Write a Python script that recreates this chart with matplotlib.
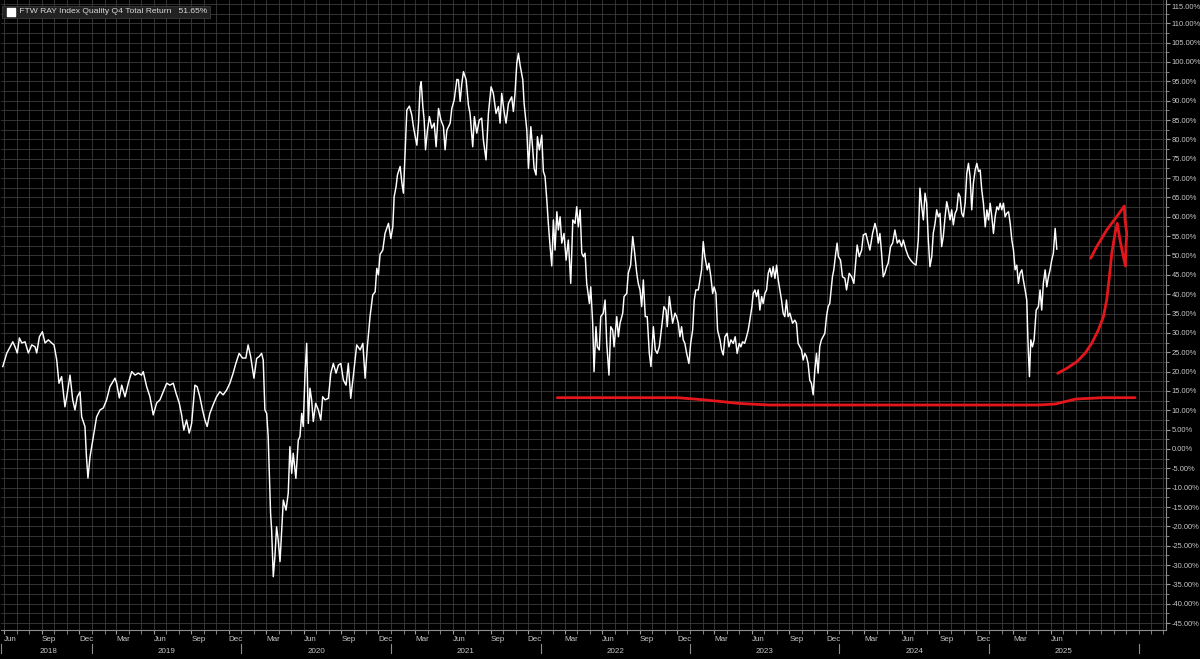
import matplotlib
matplotlib.use('Agg')
import matplotlib.pyplot as plt
import matplotlib.dates as mdates
import matplotlib.transforms as mtrans
from datetime import datetime

plt.rcParams['font.family'] = ['Liberation Sans', 'DejaVu Sans']

# series: time as decimal year, total return in %
t_years = [
    2018.403, 2018.429, 2018.470, 2018.485, 2018.500, 2018.514, 2018.530, 2018.552, 2018.574, 2018.597,
    2018.619, 2018.630, 2018.648, 2018.668, 2018.686, 2018.708, 2018.730, 2018.746, 2018.764, 2018.779,
    2018.797, 2018.819, 2018.831, 2018.853, 2018.871, 2018.886, 2018.902, 2018.920, 2018.931, 2018.953,
    2018.963, 2018.973, 2018.987, 2019.009, 2019.031, 2019.054, 2019.076, 2019.098, 2019.120, 2019.154,
    2019.165, 2019.183, 2019.199, 2019.221, 2019.243, 2019.266, 2019.288, 2019.310, 2019.332, 2019.343,
    2019.366, 2019.388, 2019.410, 2019.433, 2019.455, 2019.477, 2019.500, 2019.522, 2019.544, 2019.562,
    2019.584, 2019.600, 2019.615, 2019.633, 2019.651, 2019.667, 2019.689, 2019.704, 2019.722, 2019.740,
    2019.756, 2019.771, 2019.789, 2019.811, 2019.834, 2019.856, 2019.878, 2019.901, 2019.923, 2019.945,
    2019.963, 2019.985, 2020.008, 2020.030, 2020.045, 2020.062, 2020.084, 2020.102, 2020.119, 2020.135,
    2020.146, 2020.157, 2020.169, 2020.179, 2020.195, 2020.202, 2020.213, 2020.224, 2020.235, 2020.246,
    2020.258, 2020.269, 2020.280, 2020.298, 2020.313, 2020.324, 2020.336, 2020.346, 2020.364, 2020.380,
    2020.391, 2020.403, 2020.413, 2020.425, 2020.436, 2020.447, 2020.458, 2020.469, 2020.480, 2020.496,
    2020.514, 2020.530, 2020.543, 2020.559, 2020.581, 2020.597, 2020.614, 2020.632, 2020.648, 2020.664,
    2020.681, 2020.699, 2020.714, 2020.730, 2020.748, 2020.770, 2020.793, 2020.811, 2020.826, 2020.841,
    2020.859, 2020.877, 2020.893, 2020.904, 2020.915, 2020.926, 2020.944, 2020.959, 2020.982, 2020.998,
    2021.011, 2021.020, 2021.033, 2021.042, 2021.060, 2021.072, 2021.082, 2021.094, 2021.105, 2021.122,
    2021.138, 2021.149, 2021.161, 2021.172, 2021.183, 2021.194, 2021.201, 2021.212, 2021.221, 2021.230,
    2021.243, 2021.256, 2021.272, 2021.288, 2021.301, 2021.317, 2021.333, 2021.350, 2021.361, 2021.373,
    2021.395, 2021.406, 2021.422, 2021.440, 2021.450, 2021.462, 2021.473, 2021.484, 2021.502, 2021.517,
    2021.528, 2021.546, 2021.557, 2021.573, 2021.590, 2021.606, 2021.617, 2021.635, 2021.651, 2021.669,
    2021.684, 2021.702, 2021.718, 2021.729, 2021.740, 2021.756, 2021.769, 2021.785, 2021.807, 2021.818,
    2021.829, 2021.841, 2021.852, 2021.863, 2021.881, 2021.890, 2021.908, 2021.919, 2021.935, 2021.948,
    2021.957, 2021.970, 2021.979, 2021.992, 2022.008, 2022.019, 2022.030, 2022.042, 2022.052, 2022.064,
    2022.075, 2022.086, 2022.097, 2022.109, 2022.119, 2022.131, 2022.142, 2022.157, 2022.171, 2022.186,
    2022.202, 2022.216, 2022.231, 2022.242, 2022.253, 2022.265, 2022.276, 2022.287, 2022.298, 2022.309,
    2022.327, 2022.336, 2022.349, 2022.358, 2022.371, 2022.380, 2022.393, 2022.403, 2022.420, 2022.432,
    2022.443, 2022.458, 2022.470, 2022.483, 2022.492, 2022.510, 2022.521, 2022.532, 2022.550, 2022.559,
    2022.577, 2022.587, 2022.603, 2022.617, 2022.628, 2022.644, 2022.654, 2022.666, 2022.677, 2022.688,
    2022.701, 2022.714, 2022.728, 2022.739, 2022.755, 2022.768, 2022.781, 2022.795, 2022.811, 2022.826,
    2022.840, 2022.848, 2022.862, 2022.873, 2022.884, 2022.900, 2022.911, 2022.922, 2022.933, 2022.944,
    2022.955, 2022.966, 2022.978, 2022.993, 2023.005, 2023.018, 2023.029, 2023.040, 2023.056, 2023.067,
    2023.078, 2023.089, 2023.100, 2023.116, 2023.127, 2023.140, 2023.152, 2023.162, 2023.174, 2023.185,
    2023.201, 2023.212, 2023.223, 2023.234, 2023.249, 2023.261, 2023.274, 2023.290, 2023.303, 2023.316,
    2023.330, 2023.341, 2023.352, 2023.366, 2023.379, 2023.390, 2023.401, 2023.415, 2023.423, 2023.435,
    2023.446, 2023.457, 2023.468, 2023.480, 2023.490, 2023.502, 2023.513, 2023.524, 2023.535, 2023.546,
    2023.557, 2023.569, 2023.580, 2023.591, 2023.602, 2023.613, 2023.624, 2023.635, 2023.646, 2023.657,
    2023.669, 2023.687, 2023.702, 2023.713, 2023.724, 2023.736, 2023.747, 2023.758, 2023.769, 2023.780,
    2023.791, 2023.802, 2023.813, 2023.825, 2023.836, 2023.847, 2023.858, 2023.869, 2023.880, 2023.891,
    2023.903, 2023.914, 2023.925, 2023.936, 2023.954, 2023.963, 2023.976, 2023.985, 2023.994, 2024.008,
    2024.021, 2024.037, 2024.048, 2024.066, 2024.082, 2024.097, 2024.110, 2024.119, 2024.133, 2024.149,
    2024.160, 2024.177, 2024.193, 2024.204, 2024.222, 2024.238, 2024.249, 2024.260, 2024.271, 2024.282,
    2024.293, 2024.304, 2024.316, 2024.326, 2024.342, 2024.356, 2024.371, 2024.387, 2024.400, 2024.416,
    2024.427, 2024.445, 2024.461, 2024.476, 2024.494, 2024.512, 2024.527, 2024.538, 2024.550, 2024.561,
    2024.572, 2024.583, 2024.594, 2024.605, 2024.617, 2024.627, 2024.639, 2024.650, 2024.661, 2024.672,
    2024.683, 2024.694, 2024.706, 2024.717, 2024.728, 2024.739, 2024.750, 2024.761, 2024.773, 2024.784,
    2024.795, 2024.806, 2024.817, 2024.828, 2024.840, 2024.851, 2024.862, 2024.873, 2024.884, 2024.895,
    2024.907, 2024.918, 2024.929, 2024.940, 2024.951, 2024.962, 2024.974, 2024.985, 2024.996, 2025.007,
    2025.018, 2025.029, 2025.040, 2025.052, 2025.063, 2025.074, 2025.085, 2025.096, 2025.107, 2025.118,
    2025.130, 2025.141, 2025.152, 2025.163, 2025.174, 2025.185, 2025.196, 2025.207, 2025.219, 2025.229,
    2025.241, 2025.252, 2025.259, 2025.263, 2025.270, 2025.279, 2025.290, 2025.301, 2025.315, 2025.330,
    2025.341, 2025.352, 2025.363, 2025.375, 2025.386, 2025.397, 2025.408, 2025.419, 2025.430, 2025.442,
    2025.453,
]
returns = [
    21.3, 24.7, 27.7, 26.4, 24.8, 28.7, 27.4, 27.7, 24.8, 26.9,
    26.4, 24.8, 29.0, 30.3, 27.4, 28.2, 27.4, 26.9, 23.0, 17.0,
    18.7, 10.9, 13.5, 19.1, 12.7, 10.1, 13.5, 14.8, 8.3, 5.8,
    -2.0, -7.5, -2.0, 3.2, 8.3, 10.1, 10.6, 12.7, 16.1, 18.3,
    17.0, 13.2, 16.5, 13.5, 17.0, 20.0, 19.1, 19.6, 19.1, 20.0,
    16.1, 13.5, 8.8, 11.9, 12.7, 14.8, 17.0, 16.5, 17.0, 14.5,
    11.9, 8.8, 4.9, 7.5, 4.1, 6.6, 16.5, 16.1, 13.5, 10.1,
    7.5, 5.8, 9.2, 11.4, 13.5, 14.8, 14.0, 15.2, 17.0, 19.6,
    22.1, 24.7, 23.5, 23.5, 26.9, 23.9, 18.3, 23.4, 23.9, 24.7,
    23.0, 10.1, 9.2, 3.2, -16.6, -20.9, -33.0, -27.8, -20.1, -23.5,
    -29.1, -20.9, -13.2, -15.8, -11.4, 0.6, -6.3, -1.1, -7.6, 2.3,
    3.2, 9.2, 5.8, 19.6, 27.3, 6.6, 15.7, 12.7, 7.1, 11.8,
    10.1, 7.5, 13.5, 12.7, 13.1, 19.6, 22.1, 19.6, 21.7, 22.1,
    17.8, 16.5, 22.1, 13.1, 19.1, 26.9, 25.6, 27.3, 18.3, 26.4,
    34.2, 39.8, 40.6, 46.7, 45.0, 50.3, 51.4, 55.7, 58.3, 54.4,
    57.4, 65.2, 67.8, 70.8, 73.0, 68.7, 66.1, 77.3, 87.6, 88.6,
    86.3, 83.3, 80.7, 78.5, 84.2, 93.6, 94.9, 88.5, 85.0, 77.3,
    82.4, 85.9, 82.9, 84.2, 78.1, 88.0, 85.0, 83.3, 77.3, 82.4,
    84.2, 88.0, 90.2, 95.5, 95.4, 89.8, 94.5, 97.5, 95.4, 88.9,
    86.7, 78.1, 85.9, 81.6, 85.0, 85.5, 79.9, 74.7, 86.7, 93.6,
    91.9, 86.7, 88.5, 84.2, 91.9, 87.2, 84.2, 89.3, 91.0, 87.2,
    91.9, 99.7, 102.2, 99.2, 95.4, 89.3, 82.4, 72.5, 83.3, 77.3,
    72.5, 70.8, 80.7, 77.3, 81.1, 71.7, 70.4, 64.3, 58.3, 52.3,
    47.3, 59.2, 51.4, 61.3, 56.6, 60.0, 53.2, 55.7, 48.8, 54.0,
    42.8, 59.2, 58.3, 62.6, 57.4, 61.8, 50.6, 49.7, 50.6, 42.8,
    37.6, 41.9, 32.5, 20.0, 31.6, 26.4, 25.6, 34.2, 35.1, 38.5,
    27.3, 19.1, 31.6, 30.7, 26.4, 34.2, 29.0, 32.5, 35.1, 39.4,
    40.2, 45.4, 47.5, 54.9, 51.4, 45.4, 42.8, 41.1, 36.8, 43.7,
    34.2, 34.2, 24.7, 21.3, 31.6, 25.6, 24.7, 26.4, 31.6, 36.8,
    35.9, 31.6, 39.4, 35.9, 32.5, 35.1, 34.2, 32.5, 29.0, 31.6,
    28.2, 27.3, 24.7, 22.1, 27.3, 30.7, 38.5, 41.1, 41.1, 43.7,
    46.3, 53.6, 49.7, 46.3, 48.0, 44.5, 40.2, 41.9, 40.2, 30.7,
    28.2, 25.6, 24.3, 29.0, 29.9, 26.4, 28.2, 27.3, 29.0, 24.7,
    27.3, 26.4, 27.7, 27.3, 29.0, 30.7, 33.3, 36.8, 40.2, 41.1,
    39.4, 41.1, 35.9, 39.4, 37.6, 40.2, 41.1, 45.4, 46.7, 44.5,
    47.1, 44.1, 47.5, 43.7, 41.1, 38.5, 35.1, 34.2, 38.5, 34.2,
    35.1, 32.5, 33.3, 32.5, 27.3, 26.4, 25.6, 23.0, 24.7, 23.9,
    22.1, 17.8, 17.0, 14.0, 20.4, 24.7, 19.6, 26.5, 28.2, 29.0,
    29.9, 34.2, 36.8, 37.6, 44.5, 46.3, 50.6, 53.2, 49.7, 48.8,
    44.5, 44.1, 41.1, 45.4, 44.5, 42.8, 48.8, 52.7, 49.7, 51.4,
    55.3, 55.7, 53.2, 51.4, 55.7, 58.3, 56.6, 53.2, 55.7, 50.6,
    44.5, 45.4, 47.1, 48.0, 52.3, 53.2, 56.6, 53.2, 54.0, 52.3,
    54.0, 51.4, 49.7, 48.8, 48.0, 47.5, 54.0, 67.4, 62.6, 59.2,
    66.1, 63.5, 54.0, 47.1, 49.7, 55.7, 58.3, 61.8, 60.0, 60.9,
    52.3, 54.9, 60.0, 63.9, 61.8, 59.2, 61.8, 57.9, 60.9, 61.8,
    66.1, 65.2, 60.9, 60.0, 63.5, 71.2, 73.8, 70.4, 61.8, 68.7,
    72.1, 73.8, 71.7, 72.1, 66.9, 63.5, 57.4, 61.8, 59.2, 63.5,
    60.0, 55.7, 60.0, 62.6, 61.8, 63.5, 61.8, 63.5, 60.0, 60.9,
    61.3, 58.3, 54.0, 51.4, 46.3, 47.5, 42.8, 45.4, 46.3, 43.7,
    41.1, 38.5, 29.0, 24.7, 18.7, 28.2, 26.4, 28.2, 35.9, 36.8,
    41.1, 35.9, 42.8, 46.3, 41.9, 44.5, 46.3, 48.8, 50.6, 57.0,
    51.65,
]

# red hand-drawn annotations (decimal year, %)
support_t = [2022.112, 2022.918, 2023.067, 2023.200, 2023.334, 2023.532, 2025.325, 2025.442, 2025.581, 2025.676, 2025.760, 2025.977]
support_v = [13.26, 13.26, 12.79, 12.3, 11.76, 11.37, 11.37, 11.63, 12.92, 13.10, 13.26, 13.26]

arrow_t = [2025.459, 2025.520, 2025.587, 2025.642, 2025.687, 2025.731, 2025.765, 2025.787, 2025.805, 2025.821,
           2025.843, 2025.858, 2025.876, 2025.894, 2025.912, 2025.916, 2025.921, 2025.910, 2025.905, 2025.854,
           2025.787, 2025.720, 2025.680]
arrow_v = [19.56, 20.85, 22.56, 24.73, 27.31, 30.75, 34.19, 38.5, 44.52, 50.57,
           55.74, 58.32, 54.0, 50.57, 47.29, 52.27, 55.74, 59.17, 62.79, 60.03,
           56.59, 52.27, 49.28]

years = [2018, 2019, 2020, 2021, 2022, 2023, 2024, 2025]
last_value = 51.65
title = 'FTW RAY Index Quality Q4 Total Return'


def dec2num(t):
    y = int(t)
    a = mdates.date2num(datetime(y, 1, 1))
    b = mdates.date2num(datetime(y + 1, 1, 1))
    return a + (t - y) * (b - a)


x = [dec2num(t) for t in t_years]

fig = plt.figure(figsize=(12, 6.59), dpi=100, facecolor='black')
ax = fig.add_axes([1 / 1200, 29 / 659, 1165 / 1200, 630 / 659])
ax.set_facecolor('black')

gridc = '#3c3c3c'
ax.plot(x, returns, color='white', lw=1.05, zorder=3)
ax.plot([dec2num(t) for t in support_t], support_v, color='#e5161b', lw=2.0,
        solid_capstyle='round', solid_joinstyle='round', zorder=4)
ax.plot([dec2num(t) for t in arrow_t], arrow_v, color='#e5161b', lw=2.0,
        solid_capstyle='round', solid_joinstyle='round', zorder=4)

xmin = dec2num(2018.391)
xmax = dec2num(2026.184)
ax.set_xlim(xmin, xmax)
ax.set_ylim(-46.77, 116.02)

# y axis on the right
ax.yaxis.tick_right()
yt = list(range(-45, 116, 5))
ax.set_yticks(yt)
ylabels = ax.set_yticklabels(['%.2f%%' % v for v in yt])
ylabels[-1].set_va('top')
ax.set_yticks([v - 2.5 for v in range(-40, 116, 5)], minor=True)
ax.tick_params(axis='y', which='major', colors='#9a9a9a', labelcolor='#c8c8c8',
               labelsize=5.4, length=3, width=0.8, pad=1.2, direction='out')
ax.tick_params(axis='y', which='minor', colors='#9a9a9a', length=2, width=0.6, direction='out')

# x axis: monthly minor, quarterly labels up to Jun 2025
qdates = []
qlabels = []
for yr in range(2018, 2026):
    for m, lab in [(3, 'Mar'), (6, 'Jun'), (9, 'Sep'), (12, 'Dec')]:
        d = datetime(yr, m, 1)
        if datetime(2018, 6, 1) <= d <= datetime(2025, 6, 1):
            qdates.append(mdates.date2num(d))
            qlabels.append(lab)
ax.set_xticks(qdates)
ax.set_xticklabels(qlabels, ha='left')
ax.xaxis.set_minor_locator(mdates.MonthLocator())
ax.tick_params(axis='x', which='major', colors='#9a9a9a', labelcolor='#c8c8c8',
               labelsize=5.8, length=3, width=0.8, pad=1.5)
ax.tick_params(axis='x', which='minor', colors='#9a9a9a', length=3, width=0.6)

for v in [v - 2.5 for v in range(-45, 120, 5)] + yt:
    ax.axhline(v, color=gridc, lw=0.6, zorder=1)
for d in mdates.MonthLocator().tick_values(mdates.num2date(xmin), mdates.num2date(xmax)):
    ax.axvline(d, color=gridc, lw=0.6, zorder=1)

for s in ['left', 'top']:
    ax.spines[s].set_visible(False)
ax.spines['bottom'].set_color('#8c8c8c')
ax.spines['right'].set_color('#8c8c8c')

# year labels and separators under the axis
trans = mtrans.blended_transform_factory(ax.transData, ax.transAxes)
seps = [xmin] + [mdates.date2num(datetime(y, 1, 1)) for y in range(2019, 2027)]
for s in seps:
    ax.plot([s, s], [-0.022, -0.037], color='#8c8c8c', lw=0.8, transform=trans, clip_on=False)
for yr in years:
    a = max(mdates.date2num(datetime(yr, 1, 1)), mdates.date2num(datetime(2018, 6, 1)))
    b = mdates.date2num(datetime(yr + 1, 1, 1))
    ax.text((a + b) / 2, -0.034, str(yr), transform=trans, ha='center', va='center',
            color='#c8c8c8', fontsize=5.8)

# legend box at top left
ax.text(0.0035, 0.981, '      ' + title + '   ' + '%.2f%%' % last_value, transform=ax.transAxes,
        ha='left', va='center', color='#d8d8d8', fontsize=6.1, zorder=6,
        bbox=dict(boxstyle='square,pad=0.35', fc='#222222', ec='#3a3a3a', lw=0.6))
ax.scatter([0.0086], [0.981], marker='s', s=30, color='white', transform=ax.transAxes, zorder=7)

# current value tag
ax.text(1.0072, last_value, '%.2f%%' % last_value, transform=trans, ha='left', va='center',
        color='black', fontsize=5.8, zorder=8, clip_on=False,
        bbox=dict(boxstyle='larrow,pad=0.2', fc='white', ec='white'))

fig.savefig('out.png', dpi=100, facecolor='black')
